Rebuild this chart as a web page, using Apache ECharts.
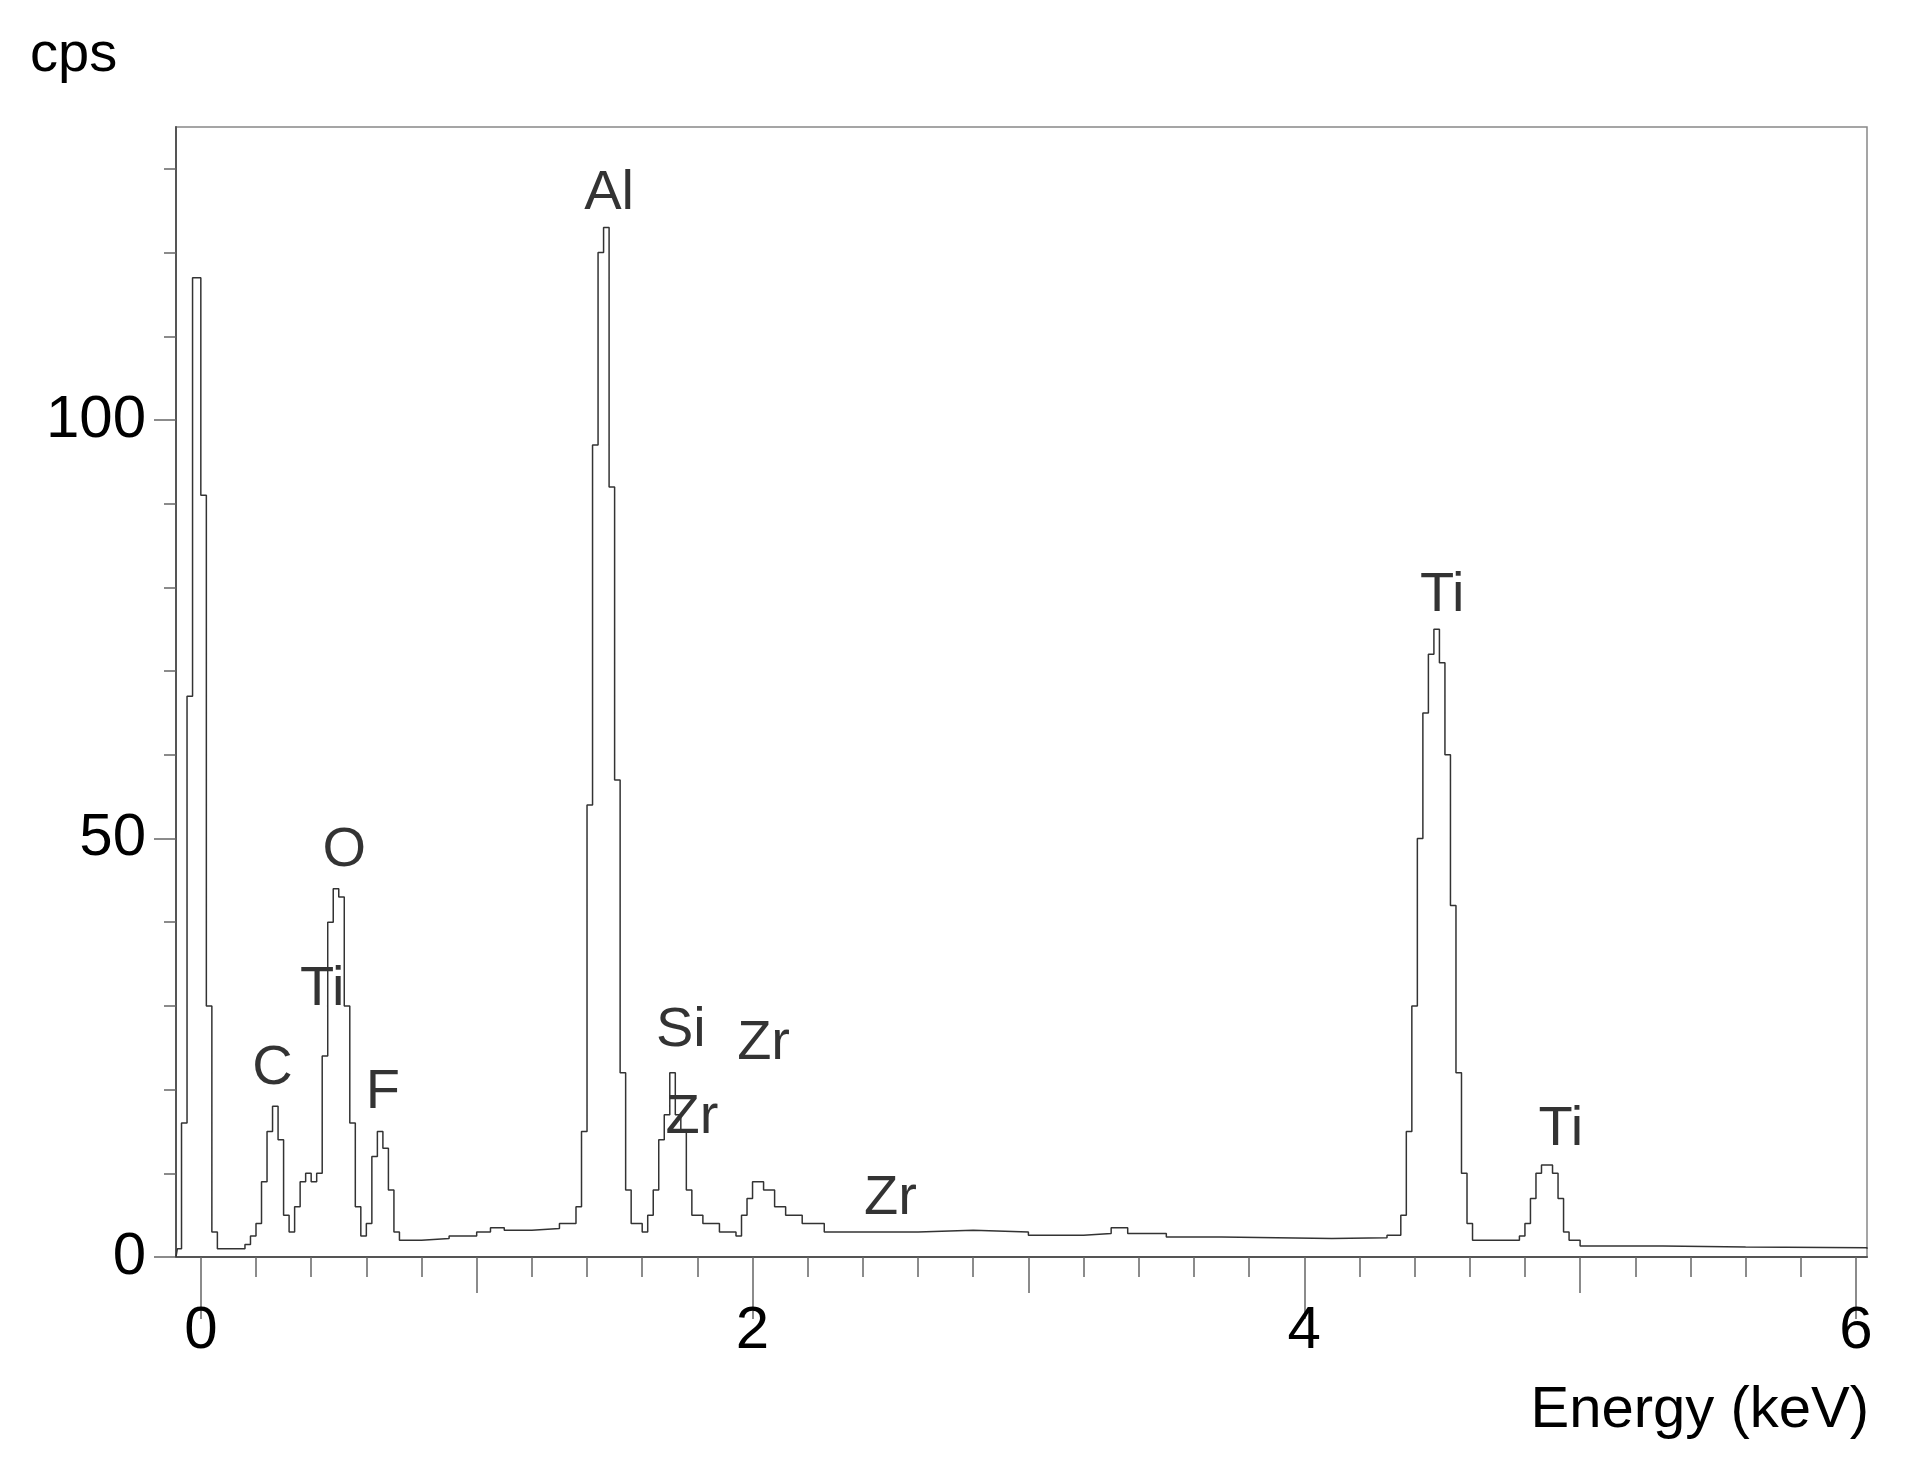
<!DOCTYPE html>
<html><head><meta charset="utf-8">
<script src="https://cdn.jsdelivr.net/npm/echarts@6/dist/echarts.min.js"></script>
<style>html,body{margin:0;background:#fff}#graph{width:1931px;height:1462px}</style>
</head><body><div id="graph"></div>
<script>
// spectrum channels: [energy keV, cps]
var spectrum = [
  [-0.09,0],[-0.085,1],[-0.07,16],[-0.05,67],[-0.03,117],[0.00,91],[0.02,30],[0.04,3],[0.06,1],
  [0.16,1.5],[0.18,2.5],[0.20,4],[0.22,9],[0.24,15],[0.26,18],[0.28,14],[0.30,5],[0.32,3],[0.34,6],
  [0.36,9],[0.38,10],[0.40,9],[0.42,10],[0.44,24],[0.46,40],[0.48,44],[0.50,43],[0.52,30],[0.54,16],
  [0.56,6],[0.58,2.5],[0.60,4],[0.62,12],[0.64,15],[0.66,13],[0.68,8],[0.70,3],[0.72,2],[0.80,2.2],
  [0.90,2.5],[1.00,3],[1.05,3.5],[1.10,3.2],[1.20,3.4],[1.30,4],[1.36,6],[1.38,15],[1.40,54],[1.42,97],
  [1.44,120],[1.46,123],[1.48,92],[1.50,57],[1.52,22],[1.54,8],[1.56,4],[1.60,3],[1.62,5],[1.64,8],
  [1.66,14],[1.68,17],[1.70,22],[1.72,17],[1.74,15],[1.76,8],[1.78,5],[1.82,4],[1.88,3],[1.94,2.5],
  [1.96,5],[1.98,7],[2.00,9],[2.04,8],[2.08,6],[2.12,5],[2.18,4],[2.26,3],[2.40,3],[2.60,3.2],
  [2.80,3],[3.00,2.6],[3.20,2.8],[3.30,3.5],[3.36,2.8],[3.50,2.4],[3.70,2.3],[3.90,2.2],[4.10,2.3],
  [4.30,2.6],[4.35,5],[4.37,15],[4.39,30],[4.41,50],[4.43,65],[4.45,72],[4.47,75],[4.49,71],[4.51,60],
  [4.53,42],[4.55,22],[4.57,10],[4.59,4],[4.61,2],[4.78,2.5],[4.80,4],[4.82,7],[4.84,10],[4.86,11],
  [4.88,11],[4.90,10],[4.92,7],[4.94,3],[4.96,2],[5.00,1.3],[5.30,1.2],[5.60,1.1],[6.04,1]
];
var peakNames = ['Al','Ti','O','Ti','C','F','Si','Zr','Zr','Zr','Ti'];
var peakPos = [[1.48,127],[4.5,79],[0.52,48.5],[0.44,32],[0.26,22.5],[0.66,19.6],[1.74,27],[2.04,25.5],[1.78,16.7],[2.5,7],[4.93,15.2]];
var xMajor = [0,2,4,6];
var xMid = [1,3,5];
var xMinor = [];
for (var i = 0; i <= 30; i++) xMinor.push(Math.round(i*2)/10);
var yMajor = [0,50,100];
var yMinor = [0,10,20,30,40,50,60,70,80,90,100,110,120,130];

var FONT = 'Liberation Sans';
var chart = echarts.init(document.getElementById('graph'));
var grid = {left:176, right:64, top:127, bottom:205, show:true, borderColor:'#888', borderWidth:1.5};
function xAx(ticks, len, labels) {
  return {type:'value', min:-0.09, max:6.04, position:'bottom', splitLine:{show:false},
    axisLine:{show:labels, onZero:false, lineStyle:{color:'#555',width:2}},
    axisTick:{show:true, length:len, customValues:ticks, lineStyle:{color:'#666',width:1.5}},
    axisLabel:{show:labels, customValues:xMajor, margin:44, color:'#000', fontSize:60, fontFamily:FONT}};
}
function yAx(ticks, len, labels) {
  return {type:'value', min:0, max:135, position:'left', splitLine:{show:false},
    axisLine:{show:labels, onZero:false, lineStyle:{color:'#555',width:2}},
    axisTick:{show:true, length:len, customValues:ticks, lineStyle:{color:'#666',width:1.5}},
    axisLabel:{show:labels, customValues:yMajor, margin:30, color:'#000', fontSize:60, fontFamily:FONT}};
}
chart.setOption({
  animation:false,
  grid: grid,
  xAxis: [xAx(xMajor,62,true), xAx(xMid,36,false), xAx(xMinor,20,false)],
  yAxis: [yAx(yMajor,22,true), yAx(yMinor,12,false)],
  graphic: [
    {type:'text', left:30, top:28, style:{text:'cps', fontSize:56, fontFamily:FONT, fill:'#000'}},
    {type:'text', right:62, top:1382, style:{text:'Energy (keV)', fontSize:58, fontFamily:FONT, fill:'#000'}}
  ],
  series: [
    {type:'line', step:'end', data:spectrum, showSymbol:false, lineStyle:{color:'#333', width:1.5}},
    {type:'scatter', symbolSize:0, data:peakPos.map(function(p,i){return {name:peakNames[i], value:p};}),
      label:{show:true, position:'inside', formatter:'{b}', color:'#000', fontSize:56, fontFamily:FONT}}
  ]
});
</script></body></html>
